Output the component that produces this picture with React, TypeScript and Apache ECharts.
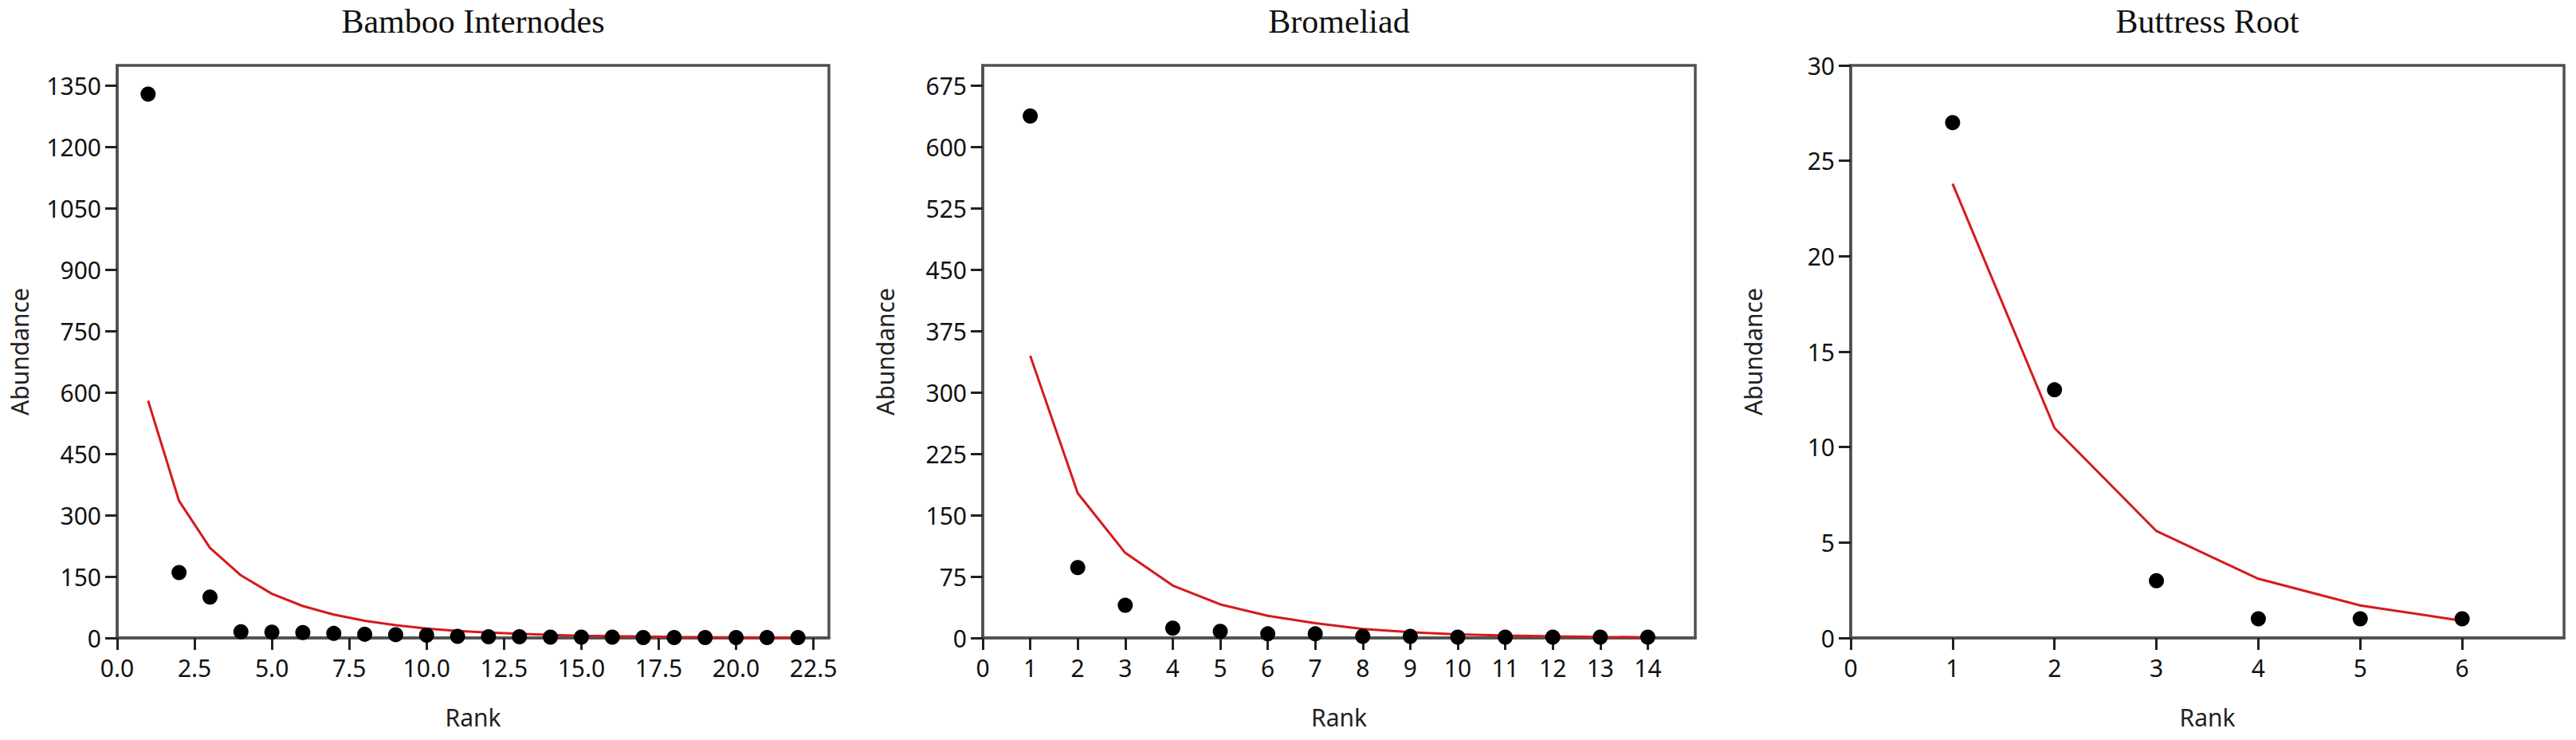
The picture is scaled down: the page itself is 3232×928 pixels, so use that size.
import React, { useEffect, useRef } from "react";
import * as echarts from "echarts";

// ---- Data ----
const titles = ["Bamboo Internodes", "Bromeliad", "Buttress Root"];

const bambooRank = [1, 2, 3, 4, 5, 6, 7, 8, 9, 10, 11, 12, 13, 14, 15, 16, 17, 18, 19, 20, 21, 22];
const bambooObserved = [1330, 160, 100, 15, 14, 13, 11, 9, 8, 7, 4, 3, 3, 2, 2, 2, 1, 1, 1, 1, 1, 1];
const bambooFitted = [580, 335, 220, 153, 108, 78, 57, 42, 31, 23, 17, 13, 10, 7.5, 5.5, 4.2, 3.2, 2.4, 1.8, 1.4, 1.1, 0.8];

const bromeliadRank = [1, 2, 3, 4, 5, 6, 7, 8, 9, 10, 11, 12, 13, 14];
const bromeliadObserved = [638, 86, 40, 12, 8, 5, 5, 2, 2, 1, 1, 1, 1, 1];
const bromeliadFitted = [345, 177, 104, 64, 41, 27, 18, 11, 7, 4.5, 3, 2, 1.3, 0.8];

const buttressRank = [1, 2, 3, 4, 5, 6];
const buttressObserved = [27, 13, 3, 1, 1, 1];
const buttressFitted = [23.8, 11, 5.6, 3.1, 1.7, 0.9];

const bambooXTicks = [0, 2.5, 5, 7.5, 10, 12.5, 15, 17.5, 20, 22.5];
const bambooYTicks = [0, 150, 300, 450, 600, 750, 900, 1050, 1200, 1350];
const bromeliadXTicks = [0, 1, 2, 3, 4, 5, 6, 7, 8, 9, 10, 11, 12, 13, 14];
const bromeliadYTicks = [0, 75, 150, 225, 300, 375, 450, 525, 600, 675];
const buttressXTicks = [0, 1, 2, 3, 4, 5, 6];
const buttressYTicks = [0, 5, 10, 15, 20, 25, 30];

const xMax = [23, 15, 7];
const yMax = [1400, 700, 30];

// ---- Layout / style ----
const gridLefts = [147, 1233, 2322];
const gridWidths = [893, 894, 895];
const gridTop = 82;
const gridHeight = 718;
const frameColor = "#505050";
const labelFont = "Noto Sans";

export default function App() {
  const ref = useRef<HTMLDivElement>(null);

  useEffect(() => {
    if (!ref.current) return;
    const chart = echarts.init(ref.current, null, { renderer: "svg" });

    const panels = [
      { rank: bambooRank, obs: bambooObserved, fit: bambooFitted, xt: bambooXTicks, yt: bambooYTicks, dec: 1 },
      { rank: bromeliadRank, obs: bromeliadObserved, fit: bromeliadFitted, xt: bromeliadXTicks, yt: bromeliadYTicks, dec: 0 },
      { rank: buttressRank, obs: buttressObserved, fit: buttressFitted, xt: buttressXTicks, yt: buttressYTicks, dec: 0 },
    ];

    const axisCommon = {
      type: "value" as const,
      splitLine: { show: false },
      axisLine: { show: true, onZero: false, lineStyle: { color: frameColor, width: 3.5 } },
      axisTick: { show: true, inside: false, length: 15, lineStyle: { color: "#222", width: 3 } },
      nameTextStyle: { fontFamily: labelFont, fontSize: 30, color: "#222" },
      nameLocation: "middle" as const,
    };

    const option: any = {
      animation: false,
      backgroundColor: "#ffffff",
      title: titles.map((t, i) => ({
        text: t,
        left: gridLefts[i] + gridWidths[i] / 2,
        textAlign: "center",
        top: 6,
        padding: 0,
        textStyle: { fontFamily: "Liberation Serif", fontSize: 42, fontWeight: "normal", color: "#111" },
      })),
      grid: panels.map((_, i) => ({
        left: gridLefts[i],
        top: gridTop,
        width: gridWidths[i],
        height: gridHeight,
        show: true,
        borderColor: frameColor,
        borderWidth: 3.5,
        backgroundColor: "transparent",
        containLabel: false,
      })),
      xAxis: panels.map((p, i) => ({
        ...axisCommon,
        gridIndex: i,
        min: 0,
        max: xMax[i],
        name: "Rank",
        nameGap: 84,
        axisTick: { ...axisCommon.axisTick, customValues: p.xt },
        axisLabel: {
          customValues: p.xt,
          margin: 22,
          fontFamily: labelFont,
          fontSize: 30,
          color: "#111",
          formatter: (v: number) => v.toFixed(p.dec),
        },
      })),
      yAxis: panels.map((p, i) => ({
        ...axisCommon,
        gridIndex: i,
        min: 0,
        max: yMax[i],
        name: "Abundance",
        nameGap: 108,
        nameRotate: 90,
        axisTick: { ...axisCommon.axisTick, customValues: p.yt },
        axisLabel: {
          customValues: p.yt,
          margin: 20,
          fontFamily: labelFont,
          fontSize: 30,
          color: "#111",
          formatter: (v: number) => String(v),
        },
      })),
      series: panels.flatMap((p, i) => [
        {
          type: "line",
          xAxisIndex: i,
          yAxisIndex: i,
          data: p.rank.map((r, k) => [r, p.fit[k]]),
          showSymbol: false,
          symbol: "none",
          lineStyle: { color: "#d7191c", width: 3 },
          z: 3,
          clip: false,
        },
        {
          type: "scatter",
          xAxisIndex: i,
          yAxisIndex: i,
          data: p.rank.map((r, k) => [r, p.obs[k]]),
          symbol: "circle",
          symbolSize: 19,
          itemStyle: { color: "#000", opacity: 1 },
          z: 4,
          clip: false,
        },
      ]),
    };

    chart.setOption(option);
    return () => chart.dispose();
  }, []);

  return (
    <div
      ref={ref}
      style={{ position: "absolute", left: 0, top: 0, width: 3232, height: 928, background: "#fff" }}
    />
  );
}
